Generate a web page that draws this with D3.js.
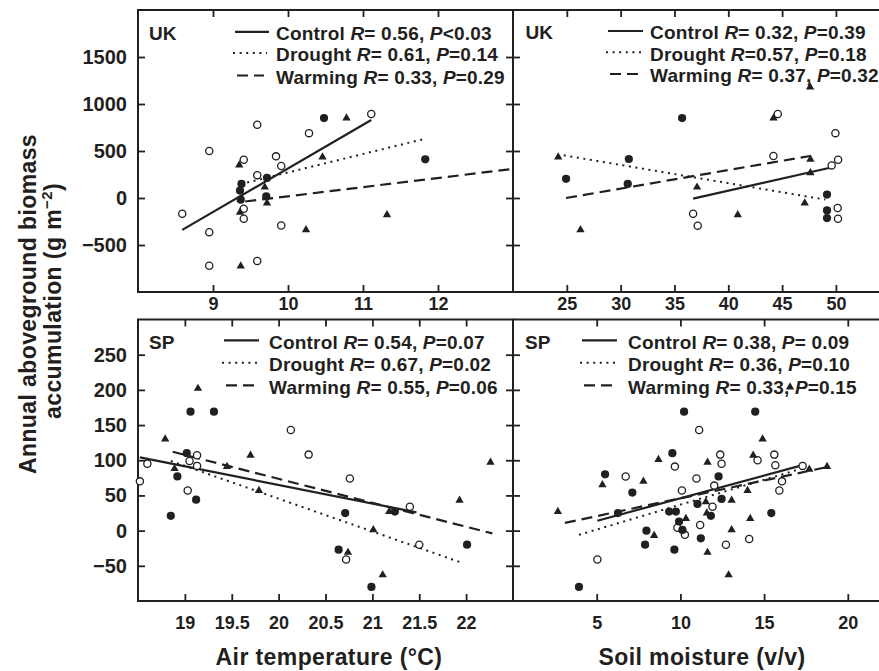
<!DOCTYPE html>
<html>
<head>
<meta charset="utf-8">
<script src="https://cdn.jsdelivr.net/npm/d3@7"></script>
<style>
  html, body { margin: 0; padding: 0; background: #fff; }
  svg text { font-family: "Liberation Sans", Arial, Helvetica, sans-serif; font-weight: bold; fill: #231f20; }
</style>
</head>
<body>
<svg id="chart" width="879" height="671"></svg>
<script>
// ---------- tick values ----------
const ukTempTicks = [9, 10, 11, 12];
const ukSoilTicks = [25, 30, 35, 40, 45, 50];
const spTempTicks = [19, 19.5, 20, 20.5, 21, 21.5, 22];
const spSoilTicks = [5, 10, 15, 20];
const ukYTicks = [-500, 0, 500, 1000, 1500];
const spYTicks = [-50, 0, 50, 100, 150, 200, 250];

// ---------- regression statistics ----------
const ukTempStats = ["Control R= 0.56, P<0.03", "Drought R= 0.61, P=0.14", "Warming R= 0.33, P=0.29"];
const ukSoilStats = ["Control R= 0.32, P=0.39", "Drought R=0.57, P=0.18", "Warming R= 0.37, P=0.32"];
const spTempStats = ["Control R= 0.54, P=0.07", "Drought R= 0.67, P=0.02", "Warming R= 0.55, P=0.06"];
const spSoilStats = ["Control R= 0.38, P= 0.09", "Drought R= 0.36, P=0.10", "Warming R= 0.33, P=0.15"];

// ---------- UK, air temperature (°C) vs biomass (g m-2) ----------
const ukTempControl = [[8.59,-167],[8.95,500],[8.95,-364],[8.95,-721],[9.59,779],[9.41,407],[9.41,-114],[9.41,-221],[9.59,243],[9.84,443],[9.91,340],[9.91,-293],[9.59,-671],[10.28,690],[11.11,893]];
const ukTempDrought = [[9.38,150],[9.36,79],[9.37,-18],[9.72,214],[9.71,18],[10.48,850],[11.83,411]];
const ukTempWarming = [[9.35,350],[9.36,-153],[9.37,-725],[9.69,115],[9.72,-54],[10.78,850],[10.46,436],[11.32,-178],[10.24,-339]];
const ukTempFitControl = [[8.59,-339],[11.11,829]];
const ukTempFitDrought = [[9.37,148],[11.8,625]];
const ukTempFitWarming = [[9.43,-37],[13,310]];

// ---------- UK, soil moisture (v/v) vs biomass ----------
const ukSoilControl = [[44.6,893],[49.95,690],[44.19,447],[49.6,347],[50.2,407],[36.73,-167],[37.16,-296],[50.16,-107],[50.19,-221]];
const ukSoilDrought = [[24.93,204],[30.76,415],[30.66,150],[35.71,850],[49.17,36],[49.17,-132],[49.17,-214]];
const ukSoilWarming = [[24.2,436],[26.27,-339],[44.2,850],[47.6,1179],[47.63,411],[47.63,268],[37.1,115],[40.88,-178],[47.1,-54]];
const ukSoilFitControl = [[36.73,-7],[49.86,332]];
const ukSoilFitDrought = [[24.72,454],[49.02,-17]];
const ukSoilFitWarming = [[24.93,0],[47.6,447]];

// ---------- SP, air temperature vs biomass ----------
const spTempControl = [[18.52,70],[18.6,95],[19.05,99],[19.13,107],[19.13,92],[19.03,57],[20.13,143],[20.32,108],[20.76,74],[21.4,34],[21.5,-20],[20.72,-41]];
const spTempDrought = [[19.02,110],[19.06,169],[19.31,169],[18.92,77],[19.12,44],[18.85,21],[20.71,25],[20.64,-27],[20.99,-80],[22.01,-20],[21.24,27]];
const spTempWarming = [[19.14,202],[18.79,130],[18.89,88],[19.45,91],[19.7,107],[19.79,57],[21.18,27],[21.01,1],[20.74,-31],[21.11,-63],[21.93,43],[22.26,97]];
const spTempFitControl = [[18.52,104],[21.47,26]];
const spTempFitDrought = [[18.85,99],[21.94,-45]];
const spTempFitWarming = [[18.87,112],[22.28,-4]];

// ---------- SP, soil moisture vs biomass ----------
const spSoilControl = [[6.73,77],[9.67,91],[5.04,-41],[11.12,143],[12.38,108],[12.46,95],[14.61,100],[15.61,108],[15.67,93],[17.3,92],[10.96,74],[12.02,64],[10.09,57],[16.07,70],[15.91,57],[11.92,34],[9.82,4],[10.27,-6],[11.18,8],[12.72,-20],[14.11,-12]];
const spSoilDrought = [[9.52,110],[5.5,80],[7.13,54],[6.27,25],[7.97,0],[7.89,-20],[9.64,-27],[3.94,-80],[9.33,27],[9.73,27],[10.22,169],[14.47,169],[12.28,77],[11.02,38],[12.46,45],[11.82,21],[9.92,13],[10.12,1],[11.22,-11],[15.43,25]];
const spSoilWarming = [[8.69,101],[5.34,65],[7.79,70],[2.68,27],[8.43,-7],[14.91,130],[11.62,97],[14.35,107],[17.7,87],[18.76,91],[14.01,57],[13.06,43],[11.52,41],[10.33,17],[11.58,25],[14.17,17],[13.06,1],[11.62,-31],[12.88,-63],[16.55,204]];
const spSoilFitControl = [[5.04,14],[17.3,93]];
const spSoilFitDrought = [[3.94,-6],[17.5,90]];
const spSoilFitWarming = [[3.1,11],[18.7,90]];

// ---------- drawing ----------
const ink = "#231f20";
const W = 879, H = 671;
const svg = d3.select("#chart");
svg.append("rect").attr("width", W).attr("height", H).attr("fill", "#fff");

const TOP = [10, 292], BOTTOM = [319.5, 601];
const LEFT = 138, MID = 513;
const lineStyles = [
  { dash: null, width: 2.2 },        // control
  { dash: "2,4.6", width: 2 },       // drought
  { dash: "11,6", width: 2.2 }       // warming
];

const panels = [
  { site: "UK", x: d3.scaleLinear([8, 13], [LEFT, MID]), y: d3.scaleLinear([-1000, 2000], [TOP[1], TOP[0]]),
    box: [LEFT, MID, TOP[0], TOP[1]], xTicks: ukTempTicks, yTicks: ukYTicks, leftPanel: true, pad: 5,
    pts: [ukTempControl, ukTempDrought, ukTempWarming], fits: [ukTempFitControl, ukTempFitDrought, ukTempFitWarming],
    stats: ukTempStats, lg: { site: 11, line: [97, 131], text: 138, rows: [23.3, 44.5, 67] } },
  { site: "UK", x: d3.scaleLinear([20, 54], [MID, W]), y: d3.scaleLinear([-1000, 2000], [TOP[1], TOP[0]]),
    box: [MID, W, TOP[0], TOP[1]], xTicks: ukSoilTicks, yTicks: ukYTicks, leftPanel: false, pad: 5,
    pts: [ukSoilControl, ukSoilDrought, ukSoilWarming], fits: [ukSoilFitControl, ukSoilFitDrought, ukSoilFitWarming],
    stats: ukSoilStats, lg: { site: 12.5, line: [95, 130], text: 137, rows: [22.5, 43.8, 65.5] } },
  { site: "SP", x: d3.scaleLinear([18.5, 22.5], [LEFT, MID]), y: d3.scaleLinear([-100, 300], [BOTTOM[1], BOTTOM[0]]),
    box: [LEFT, MID, BOTTOM[0], BOTTOM[1]], xTicks: spTempTicks, yTicks: spYTicks, leftPanel: true, pad: 15,
    pts: [spTempControl, spTempDrought, spTempWarming], fits: [spTempFitControl, spTempFitDrought, spTempFitWarming],
    stats: spTempStats, lg: { site: 11, line: [86, 121], text: 131, rows: [22.4, 44.7, 67.4] } },
  { site: "SP", x: d3.scaleLinear([0, 22], [MID, MID + 22 * 16.74]), y: d3.scaleLinear([-100, 300], [BOTTOM[1], BOTTOM[0]]),
    box: [MID, W, BOTTOM[0], BOTTOM[1]], xTicks: spSoilTicks, yTicks: spYTicks, leftPanel: false, pad: 15,
    pts: [spSoilControl, spSoilDrought, spSoilWarming], fits: [spSoilFitControl, spSoilFitDrought, spSoilFitWarming],
    stats: spSoilStats, lg: { site: 12, line: [69, 104], text: 115, rows: [22.4, 44.7, 67.4] } }
];

function styleAxis(g, fontSize) {
  g.select(".domain").remove();
  g.selectAll(".tick line").attr("stroke", ink).attr("stroke-width", 1.8);
  g.selectAll(".tick text").attr("fill", ink).attr("font-size", fontSize)
    .attr("font-family", '"Liberation Sans", Arial, sans-serif').attr("font-weight", "bold");
}

function statText(sel, str) {
  // R and P are set in italics
  const parts = str.split(/(R(?=[=<])|P(?=[=<]))/);
  parts.forEach(p => {
    if (!p) return;
    const t = sel.append("tspan").text(p);
    if (p === "R" || p === "P") t.attr("font-style", "italic");
  });
}

panels.forEach(p => {
  const [bx0, bx1, by0, by1] = p.box;
  const g = svg.append("g");

  // frame
  if (p.leftPanel) {
    g.append("rect").attr("x", bx0).attr("y", by0).attr("width", bx1 - bx0).attr("height", by1 - by0)
      .attr("fill", "none").attr("stroke", ink).attr("stroke-width", 2);
  } else {
    [by0, by1].forEach(yy => g.append("line").attr("x1", bx0).attr("x2", W + 2).attr("y1", yy).attr("y2", yy)
      .attr("stroke", ink).attr("stroke-width", 2));
  }

  // bottom axis with labels, inward ticks
  g.append("g").attr("transform", `translate(0,${by1})`)
    .call(d3.axisBottom(p.x).tickValues(p.xTicks).tickSize(-7).tickPadding(p.pad).tickFormat(d3.format("")))
    .call(a => styleAxis(a, 18));
  // top mirror ticks
  g.append("g").attr("transform", `translate(0,${by0})`)
    .call(d3.axisTop(p.x).tickValues(p.xTicks).tickSize(-7).tickFormat(""))
    .call(a => styleAxis(a, 18));

  if (p.leftPanel) {
    g.append("g").attr("transform", `translate(${bx0},0)`)
      .call(d3.axisLeft(p.y).tickValues(p.yTicks).tickSize(-7).tickPadding(11)
        .tickFormat(d => d < 0 ? "\u2212" + Math.abs(d) : String(d)))
      .call(a => styleAxis(a, 20));
    g.append("g").attr("transform", `translate(${bx1},0)`)
      .call(d3.axisRight(p.y).tickValues(p.yTicks).tickSize(-7).tickFormat(""))
      .call(a => styleAxis(a, 20));
  } else {
    g.append("g").attr("transform", `translate(${bx0},0)`)
      .call(d3.axisLeft(p.y).tickValues(p.yTicks).tickSize(-7).tickFormat(""))
      .call(a => styleAxis(a, 20));
  }

  // regression lines
  const line = d3.line().x(d => p.x(d[0])).y(d => p.y(d[1]));
  p.fits.forEach((f, i) => {
    g.append("path").attr("d", line(f)).attr("fill", "none").attr("stroke", ink)
      .attr("stroke-width", lineStyles[i].width).attr("stroke-dasharray", lineStyles[i].dash);
  });

  // points: control = open circle, drought = filled circle, warming = filled triangle
  g.selectAll(null).data(p.pts[0]).join("circle")
    .attr("cx", d => p.x(d[0])).attr("cy", d => p.y(d[1])).attr("r", 3.6)
    .attr("fill", "#fff").attr("stroke", ink).attr("stroke-width", 1.3);
  g.selectAll(null).data(p.pts[1]).join("circle")
    .attr("cx", d => p.x(d[0])).attr("cy", d => p.y(d[1])).attr("r", 4.1).attr("fill", ink);
  const tri = d3.symbol(d3.symbolTriangle, 30);
  g.selectAll(null).data(p.pts[2]).join("path")
    .attr("d", tri).attr("transform", d => `translate(${p.x(d[0])},${p.y(d[1])})`).attr("fill", ink);

  // site label and legend
  g.append("text").attr("x", bx0 + p.lg.site).attr("y", by0 + p.lg.rows[0] + 6.8)
    .attr("font-size", 19).text(p.site);
  p.stats.forEach((s, i) => {
    const cy = by0 + p.lg.rows[i];
    let x1 = bx0 + p.lg.line[0], x2 = bx0 + p.lg.line[1];
    if (i === 1) { x1 -= 2; x2 -= 2; }
    if (i === 2) { x1 += 2; x2 -= 5; }
    g.append("line").attr("x1", x1).attr("x2", x2).attr("y1", cy - 1.5).attr("y2", cy - 1.5)
      .attr("stroke", ink).attr("stroke-width", lineStyles[i].width).attr("stroke-dasharray", lineStyles[i].dash);
    const t = g.append("text").attr("x", bx0 + p.lg.text).attr("y", cy + 6.8)
      .attr("font-size", 19).attr("letter-spacing", 0.2);
    statText(t, s);
  });
});

// axis titles
svg.append("text").attr("x", 329).attr("y", 665).attr("text-anchor", "middle")
  .attr("font-size", 23).attr("letter-spacing", 0.4).text("Air temperature (\u00B0C)");
svg.append("text").attr("x", 702).attr("y", 665).attr("text-anchor", "middle")
  .attr("font-size", 23).attr("letter-spacing", 0.4).text("Soil moisture (v/v)");

const yt1 = svg.append("text").attr("transform", "translate(36,304) rotate(-90)").attr("text-anchor", "middle")
  .attr("font-size", 23).attr("letter-spacing", 0.4).text("Annual aboveground biomass");
const yt2 = svg.append("text").attr("transform", "translate(61,301) rotate(-90)").attr("text-anchor", "middle")
  .attr("font-size", 23).attr("letter-spacing", 0.4);
yt2.append("tspan").text("accumulation (g m");
yt2.append("tspan").attr("font-size", 15).attr("dy", -9).text("\u22122");
yt2.append("tspan").attr("dy", 9).text(")");
</script>
</body>
</html>
